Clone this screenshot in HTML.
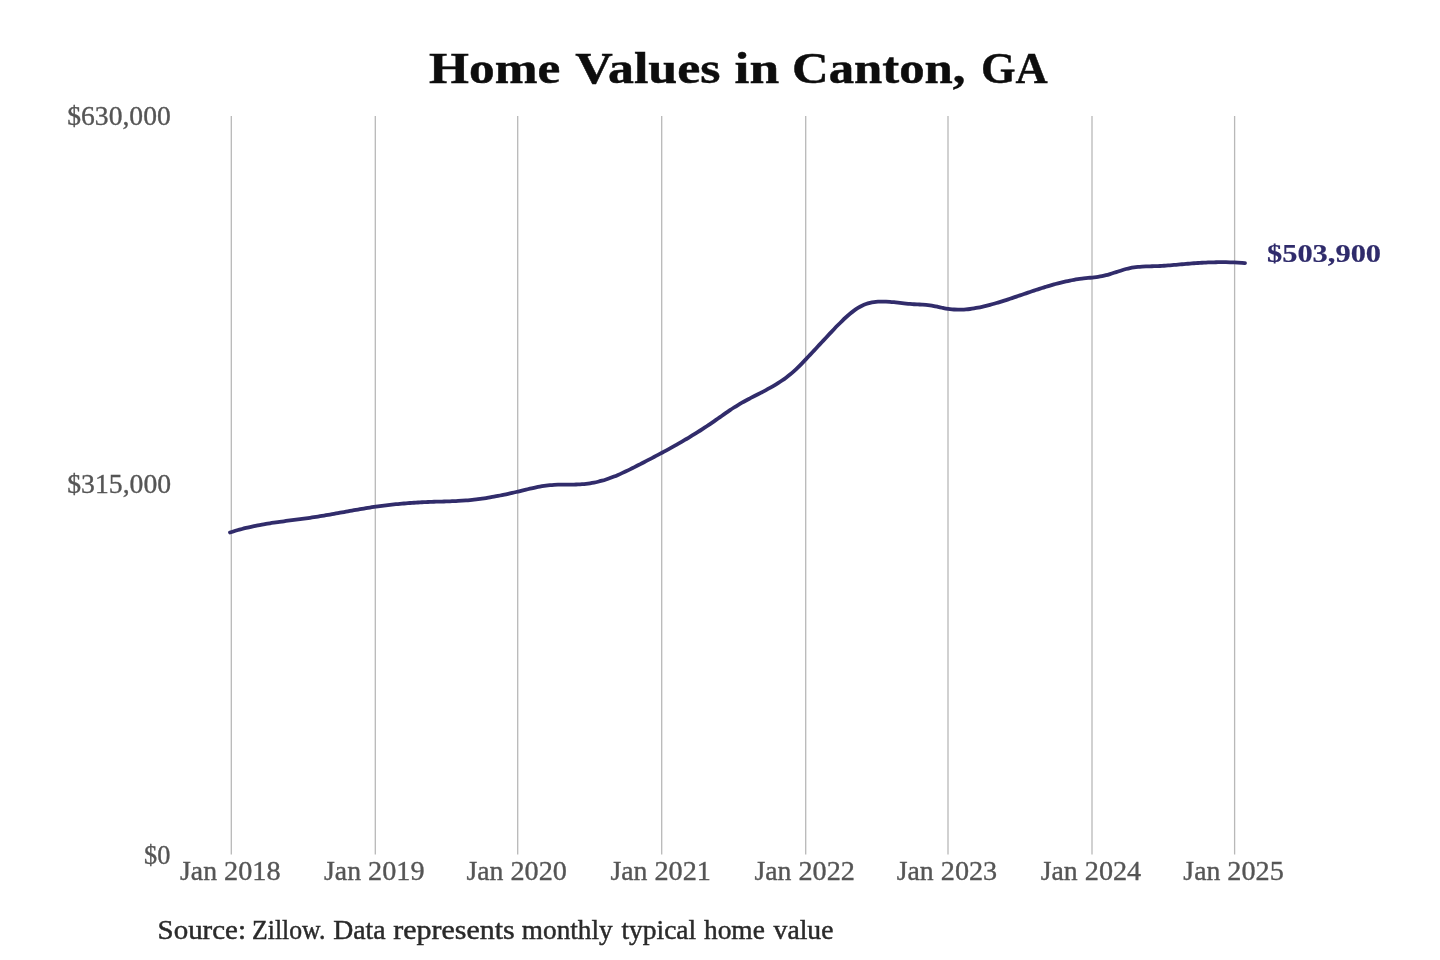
<!DOCTYPE html>
<html><head><meta charset="utf-8"><title>Home Values in Canton, GA</title>
<style>
html,body{margin:0;padding:0;background:#fff;}
body{width:1440px;height:960px;overflow:hidden;}
svg{display:block;filter:blur(0.35px);}
text{font-family:"Liberation Serif", serif;}
</style></head><body>
<svg width="1440" height="960" viewBox="0 0 1440 960">
<rect width="1440" height="960" fill="#fff"/>
<g stroke="#b8b8b8" stroke-width="1.3">
<line x1="231.30" y1="116.00" x2="231.30" y2="854.50"/>
<line x1="375.30" y1="116.00" x2="375.30" y2="854.50"/>
<line x1="517.70" y1="116.00" x2="517.70" y2="854.50"/>
<line x1="661.70" y1="116.00" x2="661.70" y2="854.50"/>
<line x1="805.70" y1="116.00" x2="805.70" y2="854.50"/>
<line x1="948.00" y1="116.00" x2="948.00" y2="854.50"/>
<line x1="1092.00" y1="116.00" x2="1092.00" y2="854.50"/>
<line x1="1234.60" y1="116.00" x2="1234.60" y2="854.50"/>
</g>
<path d="M230.00,532.49 C230.67,532.28 232.67,531.63 234.00,531.22 C235.33,530.82 236.67,530.43 238.00,530.05 C239.33,529.68 240.67,529.32 242.00,528.97 C243.33,528.62 244.67,528.29 246.00,527.97 C247.33,527.65 248.67,527.34 250.00,527.04 C251.33,526.74 252.67,526.45 254.00,526.18 C255.33,525.90 256.67,525.64 258.00,525.38 C259.33,525.12 260.67,524.87 262.00,524.63 C263.33,524.39 264.67,524.16 266.00,523.94 C267.33,523.71 268.67,523.50 270.00,523.29 C271.33,523.07 272.67,522.87 274.00,522.67 C275.33,522.47 276.67,522.28 278.00,522.09 C279.33,521.89 280.67,521.71 282.00,521.53 C283.33,521.34 284.67,521.16 286.00,520.98 C287.33,520.80 288.67,520.63 290.00,520.45 C291.33,520.28 292.67,520.10 294.00,519.93 C295.33,519.75 296.67,519.58 298.00,519.40 C299.33,519.23 300.67,519.05 302.00,518.87 C303.33,518.69 304.67,518.51 306.00,518.33 C307.33,518.15 308.67,517.96 310.00,517.77 C311.33,517.58 312.67,517.38 314.00,517.18 C315.33,516.98 316.67,516.77 318.00,516.56 C319.33,516.35 320.67,516.14 322.00,515.92 C323.33,515.70 324.67,515.47 326.00,515.24 C327.33,515.02 328.67,514.78 330.00,514.55 C331.33,514.32 332.67,514.08 334.00,513.84 C335.33,513.60 336.67,513.36 338.00,513.12 C339.33,512.88 340.67,512.64 342.00,512.39 C343.33,512.15 344.67,511.91 346.00,511.67 C347.33,511.42 348.67,511.18 350.00,510.94 C351.33,510.70 352.67,510.46 354.00,510.22 C355.33,509.99 356.67,509.75 358.00,509.52 C359.33,509.29 360.67,509.06 362.00,508.83 C363.33,508.61 364.67,508.38 366.00,508.17 C367.33,507.95 368.67,507.74 370.00,507.53 C371.33,507.32 372.67,507.12 374.00,506.92 C375.33,506.72 376.67,506.53 378.00,506.35 C379.33,506.16 380.67,505.99 382.00,505.81 C383.33,505.64 384.67,505.47 386.00,505.31 C387.33,505.15 388.67,505.00 390.00,504.85 C391.33,504.70 392.67,504.56 394.00,504.42 C395.33,504.28 396.67,504.15 398.00,504.02 C399.33,503.89 400.67,503.77 402.00,503.65 C403.33,503.54 404.67,503.42 406.00,503.32 C407.33,503.21 408.67,503.11 410.00,503.01 C411.33,502.92 412.67,502.83 414.00,502.74 C415.33,502.65 416.67,502.57 418.00,502.49 C419.33,502.41 420.67,502.34 422.00,502.27 C423.33,502.20 424.67,502.14 426.00,502.08 C427.33,502.02 428.67,501.97 430.00,501.92 C431.33,501.86 432.67,501.82 434.00,501.77 C435.33,501.73 436.67,501.69 438.00,501.65 C439.33,501.61 440.67,501.57 442.00,501.53 C443.33,501.50 444.67,501.46 446.00,501.42 C447.33,501.37 448.67,501.33 450.00,501.29 C451.33,501.24 452.67,501.19 454.00,501.13 C455.33,501.07 456.67,501.01 458.00,500.94 C459.33,500.87 460.67,500.80 462.00,500.71 C463.33,500.62 464.67,500.53 466.00,500.42 C467.33,500.32 468.67,500.20 470.00,500.07 C471.33,499.94 472.67,499.80 474.00,499.65 C475.33,499.50 476.67,499.34 478.00,499.17 C479.33,499.00 480.67,498.82 482.00,498.63 C483.33,498.44 484.67,498.24 486.00,498.04 C487.33,497.83 488.67,497.61 490.00,497.38 C491.33,497.16 492.67,496.92 494.00,496.68 C495.33,496.44 496.67,496.19 498.00,495.93 C499.33,495.67 500.67,495.41 502.00,495.14 C503.33,494.87 504.67,494.59 506.00,494.30 C507.33,494.02 508.67,493.72 510.00,493.43 C511.33,493.13 512.67,492.83 514.00,492.52 C515.33,492.21 516.67,491.89 518.00,491.57 C519.33,491.26 520.67,490.93 522.00,490.61 C523.33,490.29 524.67,489.96 526.00,489.64 C527.33,489.32 528.67,489.00 530.00,488.70 C531.33,488.39 532.67,488.09 534.00,487.80 C535.33,487.51 536.67,487.23 538.00,486.97 C539.33,486.71 540.67,486.47 542.00,486.24 C543.33,486.02 544.67,485.81 546.00,485.63 C547.33,485.45 548.67,485.30 550.00,485.17 C551.33,485.04 552.67,484.94 554.00,484.87 C555.33,484.79 556.67,484.75 558.00,484.72 C559.33,484.68 560.67,484.67 562.00,484.66 C563.33,484.65 564.67,484.66 566.00,484.65 C567.33,484.65 568.67,484.65 570.00,484.64 C571.33,484.62 572.67,484.60 574.00,484.57 C575.33,484.53 576.67,484.48 578.00,484.42 C579.33,484.35 580.67,484.27 582.00,484.17 C583.33,484.06 584.67,483.94 586.00,483.80 C587.33,483.65 588.67,483.48 590.00,483.28 C591.33,483.09 592.67,482.87 594.00,482.61 C595.33,482.36 596.67,482.07 598.00,481.75 C599.33,481.44 600.67,481.08 602.00,480.70 C603.33,480.32 604.67,479.91 606.00,479.48 C607.33,479.04 608.67,478.58 610.00,478.09 C611.33,477.60 612.67,477.09 614.00,476.56 C615.33,476.03 616.67,475.47 618.00,474.90 C619.33,474.33 620.67,473.74 622.00,473.14 C623.33,472.53 624.67,471.91 626.00,471.28 C627.33,470.65 628.67,470.00 630.00,469.34 C631.33,468.69 632.67,468.02 634.00,467.35 C635.33,466.68 636.67,466.00 638.00,465.31 C639.33,464.63 640.67,463.94 642.00,463.25 C643.33,462.56 644.67,461.87 646.00,461.18 C647.33,460.49 648.67,459.79 650.00,459.09 C651.33,458.40 652.67,457.70 654.00,457.00 C655.33,456.29 656.67,455.59 658.00,454.88 C659.33,454.17 660.67,453.46 662.00,452.74 C663.33,452.02 664.67,451.30 666.00,450.58 C667.33,449.85 668.67,449.12 670.00,448.38 C671.33,447.65 672.67,446.91 674.00,446.16 C675.33,445.41 676.67,444.66 678.00,443.90 C679.33,443.13 680.67,442.37 682.00,441.59 C683.33,440.82 684.67,440.04 686.00,439.25 C687.33,438.46 688.67,437.66 690.00,436.86 C691.33,436.05 692.67,435.24 694.00,434.41 C695.33,433.59 696.67,432.76 698.00,431.92 C699.33,431.08 700.67,430.23 702.00,429.36 C703.33,428.50 704.67,427.63 706.00,426.75 C707.33,425.87 708.67,424.97 710.00,424.07 C711.33,423.16 712.67,422.24 714.00,421.32 C715.33,420.39 716.67,419.45 718.00,418.52 C719.33,417.58 720.67,416.63 722.00,415.70 C723.33,414.76 724.67,413.82 726.00,412.90 C727.33,411.98 728.67,411.06 730.00,410.16 C731.33,409.26 732.67,408.38 734.00,407.52 C735.33,406.67 736.67,405.83 738.00,405.02 C739.33,404.22 740.67,403.44 742.00,402.68 C743.33,401.93 744.67,401.20 746.00,400.48 C747.33,399.76 748.67,399.06 750.00,398.36 C751.33,397.67 752.67,396.99 754.00,396.31 C755.33,395.63 756.67,394.96 758.00,394.28 C759.33,393.60 760.67,392.92 762.00,392.23 C763.33,391.54 764.67,390.85 766.00,390.14 C767.33,389.43 768.67,388.70 770.00,387.96 C771.33,387.21 772.67,386.45 774.00,385.65 C775.33,384.86 776.67,384.04 778.00,383.19 C779.33,382.34 780.67,381.46 782.00,380.54 C783.33,379.62 784.67,378.67 786.00,377.67 C787.33,376.67 788.67,375.63 790.00,374.53 C791.33,373.44 792.67,372.30 794.00,371.11 C795.33,369.91 796.67,368.65 798.00,367.36 C799.33,366.06 800.67,364.70 802.00,363.33 C803.33,361.97 804.67,360.56 806.00,359.15 C807.33,357.75 808.67,356.32 810.00,354.90 C811.33,353.48 812.67,352.05 814.00,350.62 C815.33,349.18 816.67,347.75 818.00,346.31 C819.33,344.87 820.67,343.43 822.00,342.00 C823.33,340.56 824.67,339.12 826.00,337.69 C827.33,336.26 828.67,334.84 830.00,333.42 C831.33,332.00 832.67,330.58 834.00,329.19 C835.33,327.79 836.67,326.39 838.00,325.04 C839.33,323.68 840.67,322.33 842.00,321.03 C843.33,319.73 844.67,318.46 846.00,317.25 C847.33,316.03 848.67,314.86 850.00,313.75 C851.33,312.65 852.67,311.59 854.00,310.62 C855.33,309.65 856.67,308.74 858.00,307.92 C859.33,307.11 860.67,306.37 862.00,305.73 C863.33,305.09 864.67,304.54 866.00,304.07 C867.33,303.59 868.67,303.21 870.00,302.88 C871.33,302.55 872.67,302.30 874.00,302.10 C875.33,301.90 876.67,301.77 878.00,301.68 C879.33,301.58 880.67,301.54 882.00,301.53 C883.33,301.52 884.67,301.56 886.00,301.61 C887.33,301.67 888.67,301.75 890.00,301.85 C891.33,301.95 892.67,302.08 894.00,302.21 C895.33,302.34 896.67,302.49 898.00,302.64 C899.33,302.79 900.67,302.95 902.00,303.10 C903.33,303.25 904.67,303.41 906.00,303.55 C907.33,303.69 908.67,303.83 910.00,303.95 C911.33,304.06 912.67,304.17 914.00,304.25 C915.33,304.33 916.67,304.38 918.00,304.44 C919.33,304.49 920.67,304.51 922.00,304.58 C923.33,304.65 924.67,304.71 926.00,304.83 C927.33,304.95 928.67,305.11 930.00,305.31 C931.33,305.51 932.67,305.76 934.00,306.02 C935.33,306.28 936.67,306.58 938.00,306.87 C939.33,307.15 940.67,307.46 942.00,307.74 C943.33,308.01 944.67,308.29 946.00,308.53 C947.33,308.76 948.67,308.97 950.00,309.14 C951.33,309.30 952.67,309.43 954.00,309.52 C955.33,309.61 956.67,309.66 958.00,309.68 C959.33,309.70 960.67,309.68 962.00,309.63 C963.33,309.59 964.67,309.51 966.00,309.40 C967.33,309.29 968.67,309.15 970.00,308.99 C971.33,308.83 972.67,308.64 974.00,308.43 C975.33,308.21 976.67,307.98 978.00,307.72 C979.33,307.46 980.67,307.18 982.00,306.88 C983.33,306.59 984.67,306.27 986.00,305.94 C987.33,305.61 988.67,305.26 990.00,304.90 C991.33,304.54 992.67,304.16 994.00,303.77 C995.33,303.39 996.67,302.99 998.00,302.59 C999.33,302.18 1000.67,301.77 1002.00,301.35 C1003.33,300.93 1004.67,300.50 1006.00,300.07 C1007.33,299.64 1008.67,299.20 1010.00,298.76 C1011.33,298.31 1012.67,297.87 1014.00,297.42 C1015.33,296.97 1016.67,296.52 1018.00,296.06 C1019.33,295.61 1020.67,295.15 1022.00,294.70 C1023.33,294.24 1024.67,293.79 1026.00,293.33 C1027.33,292.88 1028.67,292.43 1030.00,291.98 C1031.33,291.53 1032.67,291.08 1034.00,290.63 C1035.33,290.19 1036.67,289.75 1038.00,289.32 C1039.33,288.88 1040.67,288.45 1042.00,288.03 C1043.33,287.60 1044.67,287.19 1046.00,286.78 C1047.33,286.37 1048.67,285.97 1050.00,285.58 C1051.33,285.19 1052.67,284.80 1054.00,284.43 C1055.33,284.06 1056.67,283.70 1058.00,283.35 C1059.33,283.00 1060.67,282.66 1062.00,282.34 C1063.33,282.01 1064.67,281.70 1066.00,281.41 C1067.33,281.11 1068.67,280.83 1070.00,280.56 C1071.33,280.30 1072.67,280.05 1074.00,279.81 C1075.33,279.58 1076.67,279.37 1078.00,279.17 C1079.33,278.97 1080.67,278.80 1082.00,278.63 C1083.33,278.47 1084.67,278.33 1086.00,278.19 C1087.33,278.04 1088.67,277.91 1090.00,277.76 C1091.33,277.62 1092.67,277.48 1094.00,277.31 C1095.33,277.14 1096.67,276.97 1098.00,276.77 C1099.33,276.56 1100.67,276.34 1102.00,276.08 C1103.33,275.81 1104.67,275.52 1106.00,275.18 C1107.33,274.85 1108.67,274.46 1110.00,274.07 C1111.33,273.67 1112.67,273.24 1114.00,272.81 C1115.33,272.38 1116.67,271.93 1118.00,271.49 C1119.33,271.06 1120.67,270.62 1122.00,270.21 C1123.33,269.80 1124.67,269.39 1126.00,269.03 C1127.33,268.68 1128.67,268.34 1130.00,268.06 C1131.33,267.78 1132.67,267.55 1134.00,267.35 C1135.33,267.16 1136.67,267.01 1138.00,266.88 C1139.33,266.75 1140.67,266.66 1142.00,266.58 C1143.33,266.50 1144.67,266.45 1146.00,266.40 C1147.33,266.36 1148.67,266.33 1150.00,266.30 C1151.33,266.26 1152.67,266.24 1154.00,266.21 C1155.33,266.17 1156.67,266.13 1158.00,266.08 C1159.33,266.02 1160.67,265.95 1162.00,265.88 C1163.33,265.80 1164.67,265.71 1166.00,265.62 C1167.33,265.53 1168.67,265.42 1170.00,265.32 C1171.33,265.21 1172.67,265.10 1174.00,264.98 C1175.33,264.87 1176.67,264.74 1178.00,264.62 C1179.33,264.51 1180.67,264.38 1182.00,264.26 C1183.33,264.14 1184.67,264.02 1186.00,263.91 C1187.33,263.79 1188.67,263.68 1190.00,263.57 C1191.33,263.46 1192.67,263.36 1194.00,263.26 C1195.33,263.16 1196.67,263.07 1198.00,262.99 C1199.33,262.90 1200.67,262.82 1202.00,262.75 C1203.33,262.68 1204.67,262.61 1206.00,262.55 C1207.33,262.49 1208.67,262.44 1210.00,262.39 C1211.33,262.35 1212.67,262.31 1214.00,262.28 C1215.33,262.25 1216.67,262.23 1218.00,262.21 C1219.33,262.20 1220.67,262.19 1222.00,262.19 C1223.33,262.19 1224.67,262.20 1226.00,262.22 C1227.33,262.24 1228.67,262.26 1230.00,262.30 C1231.33,262.34 1232.67,262.38 1234.00,262.43 C1235.33,262.49 1236.67,262.55 1238.00,262.63 C1239.33,262.70 1240.83,262.80 1242.00,262.88 C1243.17,262.95 1244.50,263.06 1245.00,263.10" fill="none" stroke="#312c6b" stroke-width="3.8" stroke-linecap="round" stroke-linejoin="round"/>
<g stroke-width="0.45">
<text x="429.02" y="82.70" font-size="44.0" font-weight="bold" fill="#0d0d0d" stroke="#0d0d0d" stroke-width="0.45" textLength="131.23" lengthAdjust="spacingAndGlyphs">Home</text>
<text x="575.21" y="82.70" font-size="44.0" font-weight="bold" fill="#0d0d0d" stroke="#0d0d0d" stroke-width="0.45" textLength="145.28" lengthAdjust="spacingAndGlyphs">Values</text>
<text x="734.59" y="82.70" font-size="44.0" font-weight="bold" fill="#0d0d0d" stroke="#0d0d0d" stroke-width="0.45" textLength="44.57" lengthAdjust="spacingAndGlyphs">in</text>
<text x="792.00" y="82.70" font-size="44.0" font-weight="bold" fill="#0d0d0d" stroke="#0d0d0d" stroke-width="0.45" textLength="173.57" lengthAdjust="spacingAndGlyphs">Canton,</text>
<text x="980.93" y="82.70" font-size="44.0" font-weight="bold" fill="#0d0d0d" stroke="#0d0d0d" stroke-width="0.45" textLength="66.73" lengthAdjust="spacingAndGlyphs">GA</text>
<text x="67.27" y="124.50" font-size="26.7" fill="#555555" stroke="#555555" stroke-width="0.35" textLength="103.45" lengthAdjust="spacingAndGlyphs">$630,000</text>
<text x="67.26" y="492.50" font-size="26.7" fill="#555555" stroke="#555555" stroke-width="0.35" textLength="103.86" lengthAdjust="spacingAndGlyphs">$315,000</text>
<text x="144.11" y="863.80" font-size="26.7" fill="#555555" stroke="#555555" stroke-width="0.35" textLength="26.31" lengthAdjust="spacingAndGlyphs">$0</text>
<text x="180.08" y="879.70" font-size="26.7" fill="#555555" stroke="#555555" stroke-width="0.35" textLength="36.96" lengthAdjust="spacingAndGlyphs">Jan</text>
<text x="224.08" y="879.70" font-size="26.7" fill="#555555" stroke="#555555" stroke-width="0.35" textLength="56.45" lengthAdjust="spacingAndGlyphs">2018</text>
<text x="324.08" y="879.70" font-size="26.7" fill="#555555" stroke="#555555" stroke-width="0.35" textLength="36.96" lengthAdjust="spacingAndGlyphs">Jan</text>
<text x="368.08" y="879.70" font-size="26.7" fill="#555555" stroke="#555555" stroke-width="0.35" textLength="56.45" lengthAdjust="spacingAndGlyphs">2019</text>
<text x="466.48" y="879.70" font-size="26.7" fill="#555555" stroke="#555555" stroke-width="0.35" textLength="36.96" lengthAdjust="spacingAndGlyphs">Jan</text>
<text x="510.48" y="879.70" font-size="26.7" fill="#555555" stroke="#555555" stroke-width="0.35" textLength="56.45" lengthAdjust="spacingAndGlyphs">2020</text>
<text x="610.48" y="879.70" font-size="26.7" fill="#555555" stroke="#555555" stroke-width="0.35" textLength="36.96" lengthAdjust="spacingAndGlyphs">Jan</text>
<text x="654.48" y="879.70" font-size="26.7" fill="#555555" stroke="#555555" stroke-width="0.35" textLength="56.45" lengthAdjust="spacingAndGlyphs">2021</text>
<text x="754.48" y="879.70" font-size="26.7" fill="#555555" stroke="#555555" stroke-width="0.35" textLength="36.96" lengthAdjust="spacingAndGlyphs">Jan</text>
<text x="798.48" y="879.70" font-size="26.7" fill="#555555" stroke="#555555" stroke-width="0.35" textLength="56.45" lengthAdjust="spacingAndGlyphs">2022</text>
<text x="896.78" y="879.70" font-size="26.7" fill="#555555" stroke="#555555" stroke-width="0.35" textLength="36.96" lengthAdjust="spacingAndGlyphs">Jan</text>
<text x="940.78" y="879.70" font-size="26.7" fill="#555555" stroke="#555555" stroke-width="0.35" textLength="56.45" lengthAdjust="spacingAndGlyphs">2023</text>
<text x="1040.78" y="879.70" font-size="26.7" fill="#555555" stroke="#555555" stroke-width="0.35" textLength="36.96" lengthAdjust="spacingAndGlyphs">Jan</text>
<text x="1084.78" y="879.70" font-size="26.7" fill="#555555" stroke="#555555" stroke-width="0.35" textLength="56.45" lengthAdjust="spacingAndGlyphs">2024</text>
<text x="1183.38" y="879.70" font-size="26.7" fill="#555555" stroke="#555555" stroke-width="0.35" textLength="36.96" lengthAdjust="spacingAndGlyphs">Jan</text>
<text x="1227.38" y="879.70" font-size="26.7" fill="#555555" stroke="#555555" stroke-width="0.35" textLength="56.45" lengthAdjust="spacingAndGlyphs">2025</text>
<text x="157.60" y="938.50" font-size="26.7" fill="#2a2a2a" stroke="#2a2a2a" stroke-width="0.45" textLength="88.35" lengthAdjust="spacingAndGlyphs">Source:</text>
<text x="252.10" y="938.50" font-size="26.7" fill="#2a2a2a" stroke="#2a2a2a" stroke-width="0.45" textLength="73.29" lengthAdjust="spacingAndGlyphs">Zillow.</text>
<text x="333.22" y="938.50" font-size="26.7" fill="#2a2a2a" stroke="#2a2a2a" stroke-width="0.45" textLength="52.39" lengthAdjust="spacingAndGlyphs">Data</text>
<text x="393.34" y="938.50" font-size="26.7" fill="#2a2a2a" stroke="#2a2a2a" stroke-width="0.45" textLength="121.41" lengthAdjust="spacingAndGlyphs">represents</text>
<text x="521.89" y="938.50" font-size="26.7" fill="#2a2a2a" stroke="#2a2a2a" stroke-width="0.45" textLength="90.68" lengthAdjust="spacingAndGlyphs">monthly</text>
<text x="621.44" y="938.50" font-size="26.7" fill="#2a2a2a" stroke="#2a2a2a" stroke-width="0.45" textLength="74.70" lengthAdjust="spacingAndGlyphs">typical</text>
<text x="703.94" y="938.50" font-size="26.7" fill="#2a2a2a" stroke="#2a2a2a" stroke-width="0.45" textLength="60.87" lengthAdjust="spacingAndGlyphs">home</text>
<text x="773.60" y="938.50" font-size="26.7" fill="#2a2a2a" stroke="#2a2a2a" stroke-width="0.45" textLength="59.82" lengthAdjust="spacingAndGlyphs">value</text>
<text x="1267.01" y="262.00" font-size="25.5" font-weight="bold" fill="#2f2b6b" stroke="#2f2b6b" stroke-width="0.2" textLength="114.04" lengthAdjust="spacingAndGlyphs">$503,900</text>
</g>
</svg>
</body></html>
